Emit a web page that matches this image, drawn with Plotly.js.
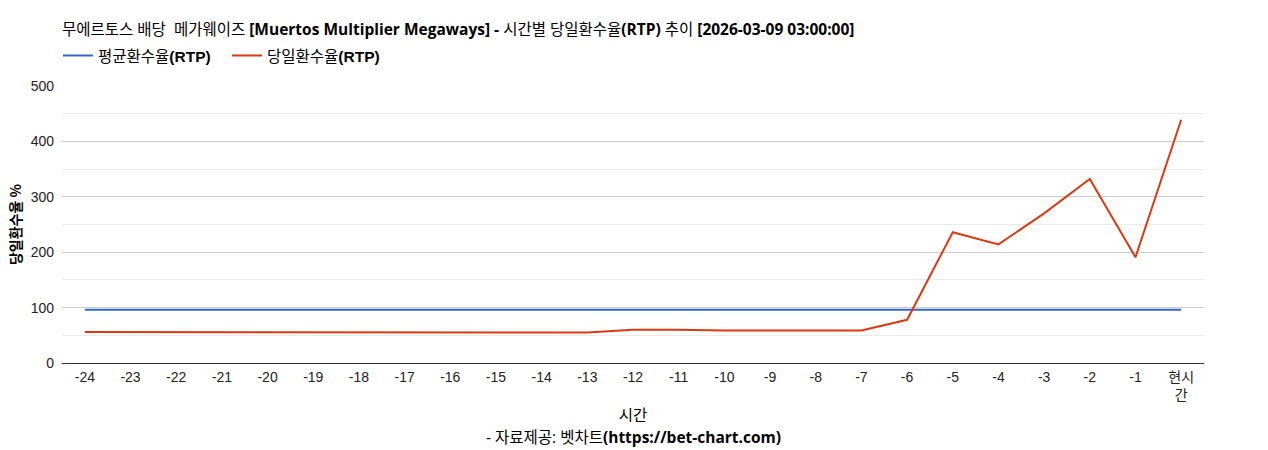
<!DOCTYPE html>
<html>
<head>
<meta charset="utf-8">
<script src="https://cdn.plot.ly/plotly-3.0.1.min.js"></script>
<style>
  html, body { margin: 0; padding: 0; background: #fff; }
  #chart { width: 1268px; height: 450px; }
</style>
</head>
<body>
<div id="chart"></div>
<script>
  // hours before now, last one is the current hour
  const hours = ['-24', '-23', '-22', '-21', '-20', '-19', '-18', '-17', '-16', '-15', '-14', '-13',
    '-12', '-11', '-10', '-9', '-8', '-7', '-6', '-5', '-4', '-3', '-2', '-1', '현시<br>간'];

  // average RTP (flat)
  const avgRtp = [96, 96, 96, 96, 96, 96, 96, 96, 96, 96, 96, 96,
    96, 96, 96, 96, 96, 96, 96, 96, 96, 96, 96, 96, 96];

  // daily RTP
  const dailyRtp = [56, 56, 56, 56, 56, 55, 55, 55, 55, 55, 55, 55,
    60, 60, 58.5, 58.5, 58.5, 58.5, 78, 236, 214, 270, 332, 191, 439];

  const yTicks = [0, 100, 200, 300, 400, 500];

  const baseFont = 'Liberation Sans, Arial, Noto Sans CJK KR, sans-serif';
  const titleFont = 'Open Sans, Noto Sans CJK KR, sans-serif';

  const traces = [
    {
      x: hours,
      y: avgRtp,
      type: 'scatter',
      mode: 'lines',
      name: '평균환수율<b>(RTP)</b>',
      line: {color: '#3366cc', width: 2}
    },
    {
      x: hours,
      y: dailyRtp,
      type: 'scatter',
      mode: 'lines',
      name: '당일환수율<b>(RTP)</b>',
      line: {color: '#dc3912', width: 2}
    }
  ];

  const layout = {
    width: 1268,
    height: 450,
    margin: {l: 62, r: 64, t: 86, b: 87},
    paper_bgcolor: '#fff',
    plot_bgcolor: '#fff',
    font: {family: baseFont, size: 14, color: '#222'},
    title: {
      text: '무에르토스 배당  메가웨이즈 <b>[Muertos Multiplier Megaways] - </b>시간별 당일환수율<b>(RTP)</b> 추이 <b>[2026-03-09 03:00:00]</b>',
      font: {family: titleFont, size: 15.5, color: '#000'},
      xref: 'paper',
      x: 0,
      xanchor: 'left',
      yref: 'container',
      y: 0.935,
      yanchor: 'middle'
    },
    showlegend: true,
    legend: {
      orientation: 'h',
      x: -0.0035,
      xanchor: 'left',
      y: 1.17,
      yanchor: 'top',
      font: {family: 'Liberation Sans, Noto Sans CJK KR, sans-serif', size: 15.5, color: '#000'},
      itemwidth: 30,
      entrywidth: 124,
      bgcolor: 'rgba(0,0,0,0)'
    },
    xaxis: {
      type: 'category',
      range: [-0.5, hours.length - 0.5],
      showgrid: false,
      zeroline: false,
      showline: false,
      ticks: '',
      ticklabelstandoff: 4,
      tickfont: {size: 14, color: '#222'},
      tickangle: 0,
      title: {
        text: '시간',
        font: {family: titleFont, size: 15.5, color: '#000'},
        standoff: 7
      },
      fixedrange: true
    },
    yaxis: {
      range: [0, 500],
      tickvals: yTicks,
      showgrid: true,
      gridcolor: '#cccccc',
      gridwidth: 1,
      minor: {dtick: 50, showgrid: true, gridcolor: '#ebebeb', gridwidth: 1, ticks: ''},
      zeroline: true,
      zerolinecolor: '#333333',
      zerolinewidth: 1,
      ticks: '',
      ticklabelstandoff: 7,
      tickfont: {size: 14, color: '#222'},
      title: {
        text: '<b>당일환수율 %</b>',
        font: {family: 'Noto Sans CJK KR, sans-serif', size: 14, color: '#000'},
        standoff: 5
      },
      fixedrange: true
    },
    annotations: [
      {
        text: '- 자료제공: 벳차트<b>(https://bet-chart.com)</b>',
        xref: 'paper',
        x: 0.5,
        xanchor: 'center',
        yref: 'paper',
        y: -74 / 277,
        yanchor: 'middle',
        showarrow: false,
        font: {family: titleFont, size: 15.5, color: '#000'}
      }
    ]
  };

  Plotly.newPlot('chart', traces, layout, {displayModeBar: false, responsive: false});
</script>
</body>
</html>
